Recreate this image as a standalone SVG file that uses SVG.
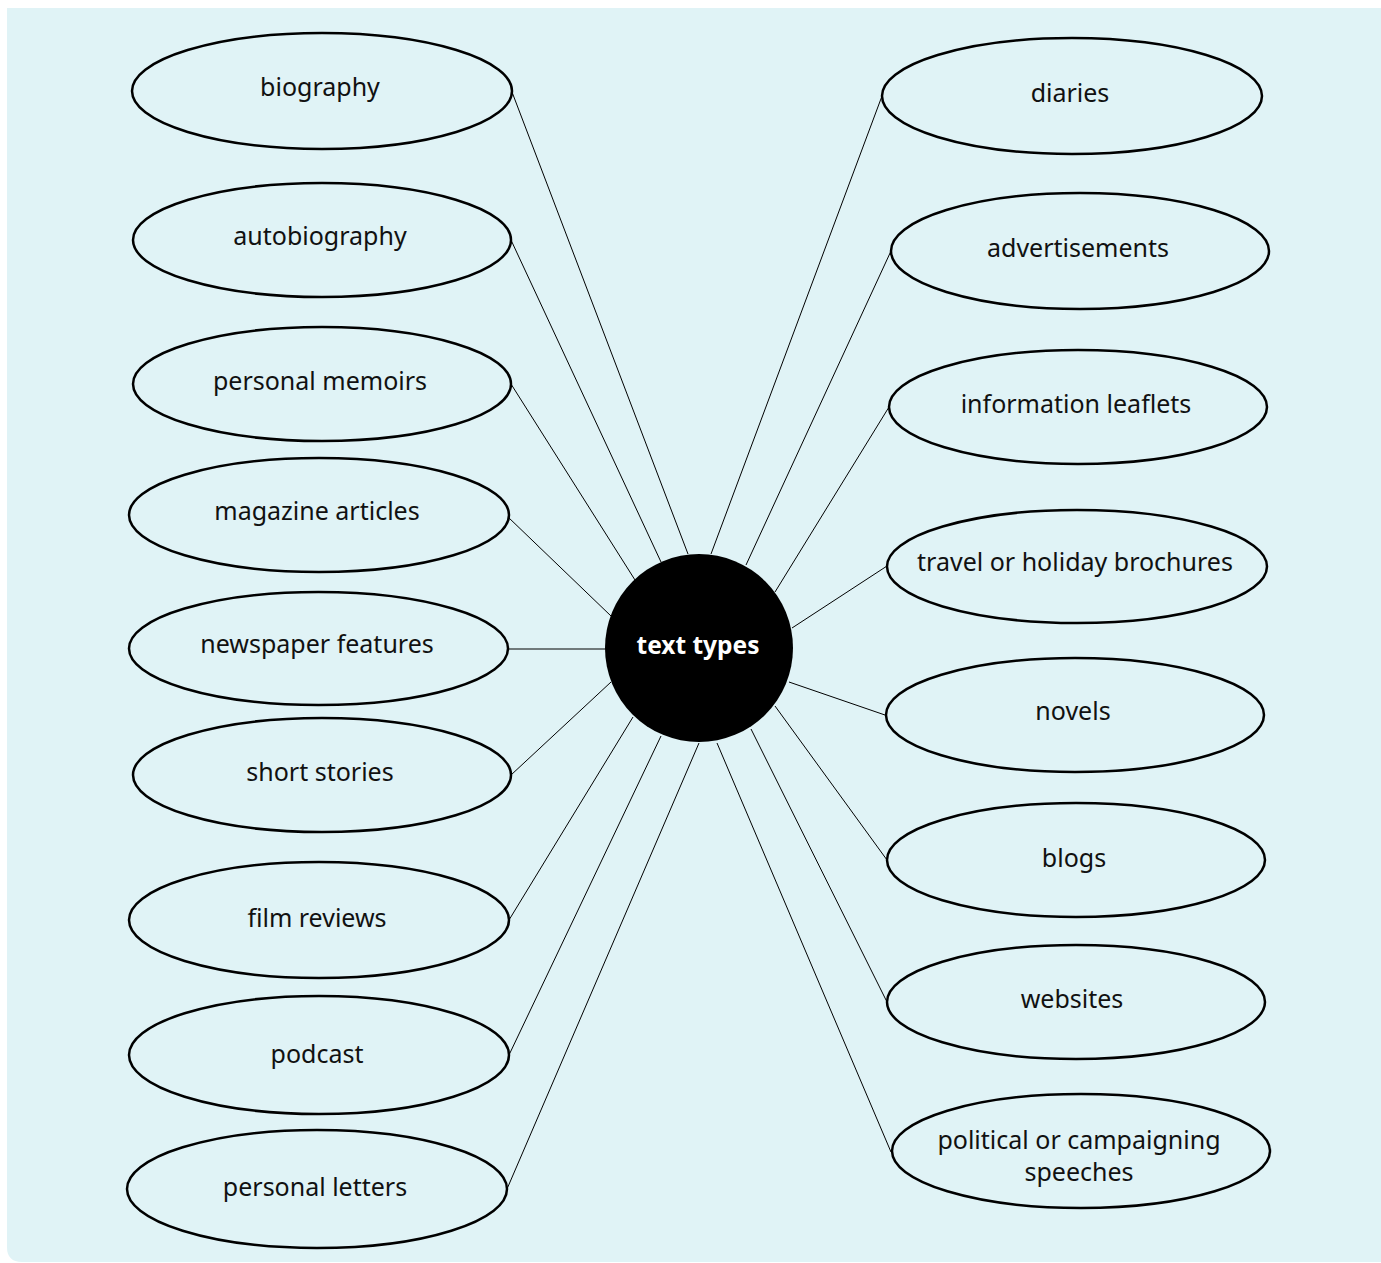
<svg xmlns="http://www.w3.org/2000/svg" width="1381" height="1263" viewBox="0 0 1381 1263">
<style>
.n ellipse{fill:none;stroke:#000;stroke-width:2.5}
.n text{font-family:"Noto Sans","Open Sans",sans-serif;font-size:25px;fill:#111;text-anchor:middle}
#connectors line{stroke:#000;stroke-width:1}
</style>
<rect width="1381" height="1263" fill="#ffffff"/>
<path d="M7,8 H1381 V1262 H22 Q7,1262 7,1247 Z" fill="#e0f3f6"/>
<g id="connectors">
<line x1="512" y1="92" x2="688" y2="554"/>
<line x1="511" y1="240" x2="661" y2="562"/>
<line x1="511" y1="384" x2="635" y2="580"/>
<line x1="508" y1="517" x2="611" y2="616"/>
<line x1="508" y1="649" x2="606" y2="649"/>
<line x1="511" y1="775" x2="611" y2="682"/>
<line x1="509" y1="920" x2="633" y2="717"/>
<line x1="509" y1="1055" x2="661" y2="736"/>
<line x1="507" y1="1189" x2="699" y2="743"/>
<line x1="882" y1="96" x2="711" y2="554"/>
<line x1="891" y1="251" x2="746" y2="565"/>
<line x1="889" y1="407" x2="775" y2="592"/>
<line x1="887" y1="566" x2="792" y2="628"/>
<line x1="885" y1="715" x2="789" y2="682"/>
<line x1="887" y1="860" x2="775" y2="706"/>
<line x1="887" y1="1002" x2="751" y2="729"/>
<line x1="891" y1="1152" x2="717" y2="743"/>
</g>
<g id="center">
<circle cx="699" cy="648" r="94" fill="#000"/>
<text x="698" y="654" font-family="'Noto Sans','Open Sans',sans-serif" font-size="24.5" font-weight="bold" fill="#fff" text-anchor="middle">text types</text>
</g>
<g id="biography" class="n"><ellipse cx="322" cy="91" rx="190" ry="58"/><text x="320" y="96">biography</text></g>
<g id="autobiography" class="n"><ellipse cx="322" cy="240" rx="189" ry="57"/><text x="320" y="245">autobiography</text></g>
<g id="personal-memoirs" class="n"><ellipse cx="322" cy="384" rx="189" ry="57"/><text x="320" y="390">personal memoirs</text></g>
<g id="magazine-articles" class="n"><ellipse cx="319" cy="515" rx="190" ry="57"/><text x="317" y="520">magazine articles</text></g>
<g id="newspaper-features" class="n"><ellipse cx="318.5" cy="648.5" rx="189.5" ry="56.5"/><text x="317" y="653">newspaper features</text></g>
<g id="short-stories" class="n"><ellipse cx="322" cy="775" rx="189" ry="57"/><text x="320" y="781">short stories</text></g>
<g id="film-reviews" class="n"><ellipse cx="319" cy="920" rx="190" ry="58"/><text x="317" y="927">film reviews</text></g>
<g id="podcast" class="n"><ellipse cx="319" cy="1055" rx="190" ry="59"/><text x="317" y="1063">podcast</text></g>
<g id="personal-letters" class="n"><ellipse cx="317" cy="1189" rx="190" ry="59"/><text x="315" y="1196">personal letters</text></g>
<g id="diaries" class="n"><ellipse cx="1072" cy="96" rx="190" ry="58"/><text x="1070" y="102">diaries</text></g>
<g id="advertisements" class="n"><ellipse cx="1080" cy="251" rx="189" ry="58"/><text x="1078" y="257">advertisements</text></g>
<g id="information-leaflets" class="n"><ellipse cx="1078" cy="407" rx="189" ry="57"/><text x="1076" y="413">information leaflets</text></g>
<g id="travel-brochures" class="n"><ellipse cx="1077" cy="566.5" rx="190" ry="56.5"/><text x="1075" y="571">travel or holiday brochures</text></g>
<g id="novels" class="n"><ellipse cx="1075" cy="715" rx="189" ry="57"/><text x="1073" y="720">novels</text></g>
<g id="blogs" class="n"><ellipse cx="1076" cy="860" rx="189" ry="57"/><text x="1074" y="867">blogs</text></g>
<g id="websites" class="n"><ellipse cx="1076" cy="1002" rx="189" ry="57"/><text x="1072" y="1008">websites</text></g>
<g id="political-speeches" class="n"><ellipse cx="1081" cy="1151" rx="189" ry="57"/><text x="1079" y="1149">political or campaigning</text><text x="1079" y="1181">speeches</text></g>
</svg>
